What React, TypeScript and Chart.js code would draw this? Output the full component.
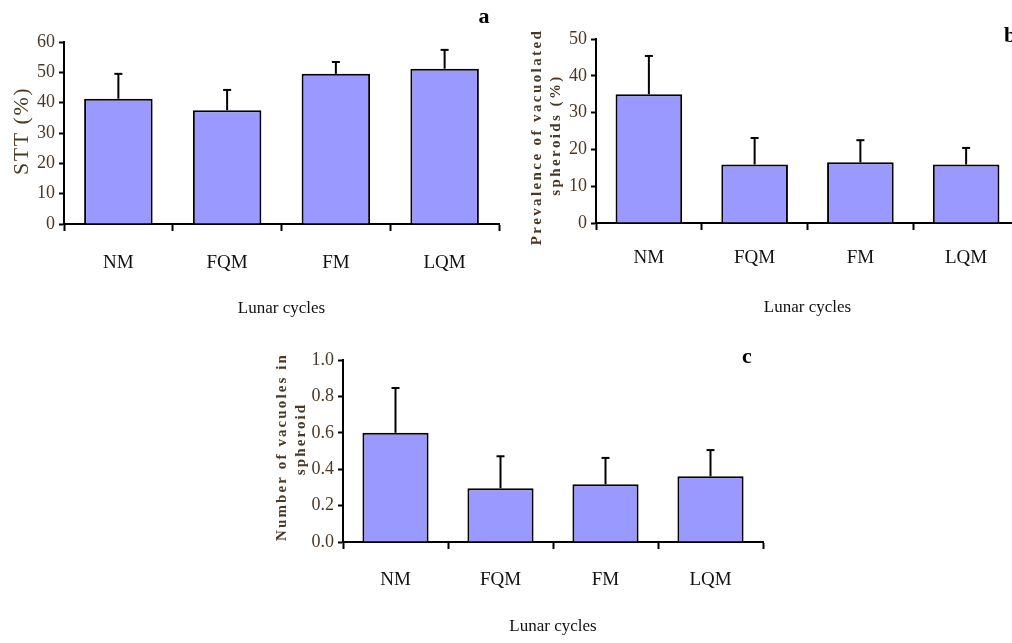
import React, { useEffect, useRef } from "react";
import { Chart, registerables } from "chart.js";
Chart.register(...registerables);

const categories = ["NM", "FQM", "FM", "LQM"];

const sttValues = [41.3, 37.5, 49.5, 51.2];
const sttErrors = [8.2, 6.7, 3.9, 6.2];
const sttMax = 60;
const sttStep = 10;

const prevValues = [35.0, 15.9, 16.5, 15.9];
const prevErrors = [10.4, 7.2, 6.0, 4.5];
const prevMax = 50;
const prevStep = 10;

const vacValues = [0.6, 0.295, 0.317, 0.361];
const vacErrors = [0.246, 0.176, 0.145, 0.144];
const vacMax = 1.0;
const vacStep = 0.2;

const xTitle = "Lunar cycles";

const CW = 1040;
const CH = 643;
const BAR = "#9999FF";
const TXT = "#4a3826";

type Panel = {
  values: number[];
  errors: number[];
  yMax: number;
  yStep: number;
  decimals: number;
  yTitle: string[];
  yTitleFont: string;
  yTitleSpacing: string;
  yTitleDx: number[];
  yTitleDy: number[];
  letter: string;
  letterDx: number;
  letterDy: number;
  area: { l: number; t: number; r: number; b: number };
  yAxisWidth: number;
  xLabelPad: number;
};

const panels: Panel[] = [
  {
    values: sttValues,
    errors: sttErrors,
    yMax: sttMax,
    yStep: sttStep,
    decimals: 0,
    yTitle: ["STT (%)"],
    yTitleFont: "22px 'Liberation Serif'",
    yTitleSpacing: "1.5px",
    yTitleDx: [-42],
    yTitleDy: [-2],
    letter: "a",
    letterDx: -15,
    letterDy: -25,
    area: { l: 64, t: 42, r: 499, b: 224 },
    yAxisWidth: 64,
    xLabelPad: 21,
  },
  {
    values: prevValues,
    errors: prevErrors,
    yMax: prevMax,
    yStep: prevStep,
    decimals: 0,
    yTitle: ["Prevalence of vacuolated", "spheroids (%)"],
    yTitleFont: "bold 15px 'Liberation Serif'",
    yTitleSpacing: "2.4px",
    yTitleDx: [-59, -40],
    yTitleDy: [6, 4],
    letter: "b",
    letterDx: -9,
    letterDy: -3,
    area: { l: 596, t: 39, r: 1019, b: 223 },
    yAxisWidth: 76,
    xLabelPad: 17,
  },
  {
    values: vacValues,
    errors: vacErrors,
    yMax: vacMax,
    yStep: vacStep,
    decimals: 1,
    yTitle: ["Number of vacuoles in", "spheroid"],
    yTitleFont: "bold 15px 'Liberation Serif'",
    yTitleSpacing: "2.1px",
    yTitleDx: [-61, -42],
    yTitleDy: [-4, -12],
    letter: "c",
    letterDx: -16,
    letterDy: -3,
    area: { l: 343, t: 360, r: 763, b: 542 },
    yAxisWidth: 83,
    xLabelPad: 20,
  },
];

const X_AXIS_H = 95;

function makeChart(canvas: HTMLCanvasElement, p: Panel) {
  const errorBars = {
    id: "errorBars",
    afterDatasetsDraw(chart: any) {
      const ctx = chart.ctx;
      const meta = chart.getDatasetMeta(0);
      const ys = chart.scales.y;
      ctx.save();
      ctx.strokeStyle = "#000";
      meta.data.forEach((el: any, i: number) => {
        const yTop = ys.getPixelForValue(p.values[i] + p.errors[i]);
        ctx.lineWidth = 2;
        ctx.beginPath();
        ctx.moveTo(el.x, el.y);
        ctx.lineTo(el.x, yTop);
        ctx.stroke();
        ctx.beginPath();
        ctx.moveTo(el.x - 4, yTop);
        ctx.lineTo(el.x + 4, yTop);
        ctx.stroke();
      });
      ctx.restore();
    },
  };
  const texts = {
    id: "panelTexts",
    afterDraw(chart: any) {
      const ctx = chart.ctx;
      const a = chart.chartArea;
      const yc = (a.top + a.bottom) / 2;
      p.yTitle.forEach((line, i) => {
        ctx.save();
        ctx.translate(a.left + p.yTitleDx[i], yc + p.yTitleDy[i]);
        ctx.rotate(-Math.PI / 2);
        ctx.font = p.yTitleFont;
        (ctx as any).letterSpacing = p.yTitleSpacing;
        ctx.fillStyle = TXT;
        ctx.textAlign = "center";
        ctx.textBaseline = "middle";
        ctx.fillText(line, 0, 0);
        ctx.restore();
      });
      ctx.save();
      ctx.font = "bold 22px 'Liberation Serif'";
      ctx.fillStyle = "#000";
      ctx.textAlign = "center";
      ctx.textBaseline = "middle";
      ctx.fillText(p.letter, a.right + p.letterDx, a.top + p.letterDy);
      ctx.restore();
    },
  };

  return new Chart(canvas, {
    type: "bar",
    data: {
      labels: categories,
      datasets: [
        {
          data: p.values,
          backgroundColor: BAR,
          borderColor: "#000",
          borderWidth: 2,
          barPercentage: 0.63,
          categoryPercentage: 1,
        },
      ],
    },
    options: {
      responsive: false,
      animation: false,
      events: [],
      layout: {
        padding: {
          left: p.area.l - p.yAxisWidth,
          top: p.area.t,
          right: CW - p.area.r,
          bottom: CH - (p.area.b + X_AXIS_H),
        },
      },
      plugins: {
        legend: { display: false },
        tooltip: { enabled: false },
        title: { display: false },
      },
      scales: {
        x: {
          offset: true,
          afterFit: (s: any) => {
            s.height = X_AXIS_H;
          },
          grid: {
            offset: true,
            drawOnChartArea: false,
            drawTicks: true,
            tickLength: 7,
            tickColor: "#000",
            tickWidth: 2,
          },
          border: { display: true, color: "#000", width: 2 },
          ticks: {
            color: "#111",
            font: { family: "'Liberation Serif'", size: 19 },
            padding: p.xLabelPad,
            maxRotation: 0,
          },
          title: {
            display: true,
            text: xTitle,
            color: "#111",
            font: { family: "'Liberation Serif'", size: 17 },
            padding: { top: 0, bottom: 0 },
          },
        },
        y: {
          min: 0,
          max: p.yMax,
          afterFit: (s: any) => {
            s.width = p.yAxisWidth;
          },
          grid: {
            drawOnChartArea: false,
            drawTicks: true,
            tickLength: 5,
            tickColor: "#000",
            tickWidth: 2,
          },
          border: { display: true, color: "#000", width: 2 },
          ticks: {
            stepSize: p.yStep,
            color: TXT,
            padding: 4,
            font: { family: "'Liberation Serif'", size: 18 },
            callback: (v: any) => Number(v).toFixed(p.decimals),
          },
        },
      },
    },
    plugins: [errorBars, texts],
  } as any);
}

function PanelChart({ p }: { p: Panel }) {
  const ref = useRef<HTMLCanvasElement>(null);
  useEffect(() => {
    if (!ref.current) return;
    const c = makeChart(ref.current, p);
    return () => c.destroy();
  }, [p]);
  return (
    <canvas
      ref={ref}
      width={CW}
      height={CH}
      style={{ position: "absolute", left: 0, top: 0, width: CW, height: CH }}
    />
  );
}

export default function App() {
  return (
    <div
      style={{
        position: "fixed",
        left: 0,
        top: 0,
        width: 1012,
        height: 643,
        overflow: "hidden",
        background: "#fff",
      }}
    >
      {panels.map((p, i) => (
        <PanelChart key={i} p={p} />
      ))}
    </div>
  );
}
